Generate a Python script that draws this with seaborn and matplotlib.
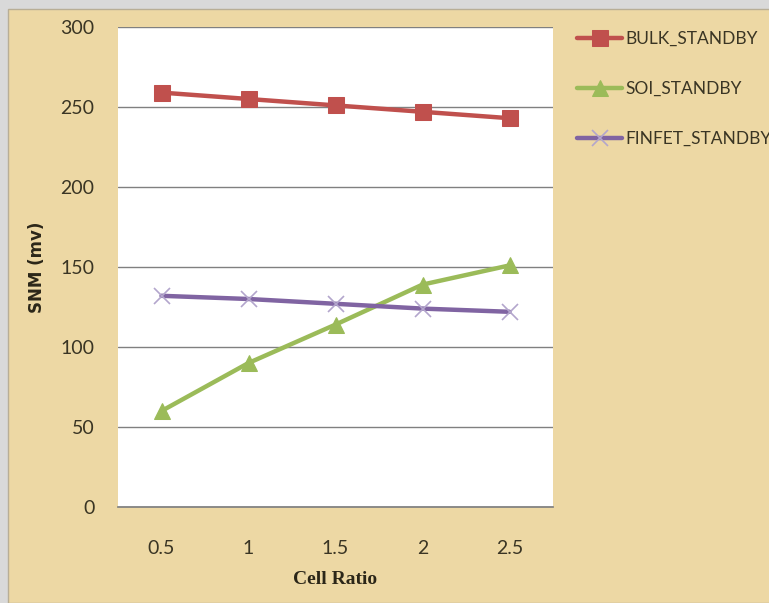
import pandas as pd
import matplotlib
matplotlib.use("Agg")
from matplotlib import pyplot as plt
from matplotlib.patches import Rectangle
import seaborn as sns

cell_ratio = [0.5, 1, 1.5, 2, 2.5]
bulk_standby = [259, 255, 251, 247, 243]
soi_standby = [60, 90, 114, 139, 151]
finfet_standby = [132, 130, 127, 124, 122]

df = pd.DataFrame({
    "Cell Ratio": cell_ratio * 3,
    "SNM (mv)": bulk_standby + soi_standby + finfet_standby,
    "series": ["BULK_STANDBY"] * 5 + ["SOI_STANDBY"] * 5 + ["FINFET_STANDBY"] * 5,
})

sns.set_theme(style="white")
plt.rcParams["font.family"] = ["Lato", "DejaVu Sans"]

bg = "#EDD8A4"
fig = plt.figure(figsize=(7.69, 6.03), dpi=100, facecolor="#D9D9D9")
fig.patches.append(Rectangle((8 / 769, 0), 1, 1 - 9 / 603, transform=fig.transFigure,
                             facecolor=bg, edgecolor="#B8AE96", linewidth=1, zorder=-5))
ax = fig.add_axes([118 / 769, 1 - 507 / 603, (553 - 118) / 769, (507 - 27) / 603])
ax.set_zorder(2)
ax.set_facecolor("white")

styles = {
    "BULK_STANDBY": dict(color="#C0504D", marker="s", markersize=11, mfc="#C0504D", mec="#C0504D"),
    "SOI_STANDBY": dict(color="#9BBB59", marker="^", markersize=11, mfc="#9BBB59", mec="#9BBB59"),
    "FINFET_STANDBY": dict(color="#8064A2", marker="x", markersize=12, mfc="none", mec="#B3A6CC", mew=1.2),
}
for name, st in styles.items():
    sub = df[df["series"] == name]
    sns.lineplot(data=sub, x="Cell Ratio", y="SNM (mv)", ax=ax, linewidth=3.2, label=name,
                 sort=False, **st)

ax.set_xlim(0.25, 2.75)
ax.set_ylim(0, 300)
ax.set_xticks(cell_ratio)
ax.set_xticklabels(["0.5", "1", "1.5", "2", "2.5"])
ax.set_yticks(range(0, 301, 50))
ax.yaxis.grid(True, color="#808080", linewidth=1)
ax.xaxis.grid(False)
for s in ["top", "right", "left"]:
    ax.spines[s].set_visible(False)
ax.spines["bottom"].set_color("#808080")
ax.tick_params(axis="both", labelsize=14, labelcolor="#3A3524", length=0)
ax.tick_params(axis="x", pad=24)
ax.tick_params(axis="y", pad=17)

ax.set_xlabel("Cell Ratio", fontsize=14, fontweight="bold", family=["Liberation Serif"],
              color="#2B2618", labelpad=10)
ax.set_ylabel("SNM (mv)", fontsize=12, fontweight="bold", family=["DejaVu Sans"],
              color="#2B2618", labelpad=10)

leg = ax.legend(loc="upper left", bbox_to_anchor=(1.02, 1.024), frameon=False,
                fontsize=12.5, labelspacing=1.95, handlelength=2.6, handletextpad=0.15,
                labelcolor="#3A3524")

fig.savefig("out.png", dpi=100, facecolor=fig.get_facecolor())
